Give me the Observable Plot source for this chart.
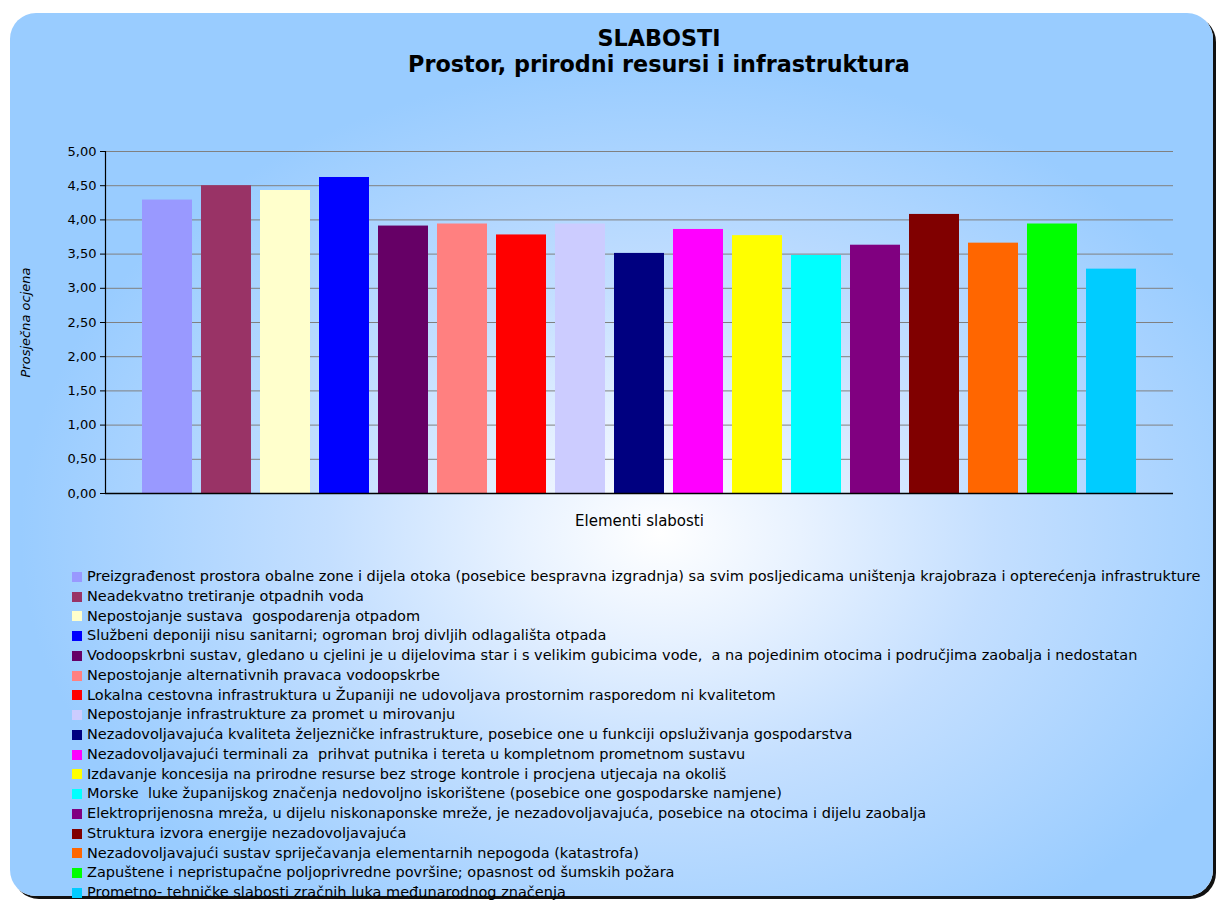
<!DOCTYPE html>
<html>
<head>
<meta charset="utf-8">
<script src="https://cdn.jsdelivr.net/npm/d3@7"></script>
<script src="https://cdn.jsdelivr.net/npm/@observablehq/plot@0.6"></script>
<style>
  html, body { margin: 0; padding: 0; background: #ffffff; width: 1216px; height: 900px; overflow: hidden; }
  #card {
    position: absolute; left: 10px; top: 13px; width: 1203px; height: 883px;
    border-radius: 26px;
    background: radial-gradient(ellipse 640px 470px at 650px 520px, #ffffff 0%, #e8f2ff 22%, #c4dfff 52%, #99ccff 100%);
    box-shadow: 3px 3px 0 #111;
  }
  #title {
    position: absolute; left: 259px; width: 800px; top: 25px; text-align: center;
    font-family: "DejaVu Sans", sans-serif; font-weight: bold;
    font-size: 22.3px; line-height: 26px; color: #000;
  }
  #chart { position: absolute; left: 0; top: 130px; }
  #legend {
    position: absolute; left: 72px; top: 567px;
    font-family: "DejaVu Sans", sans-serif; font-size: 14.5px; color: #000;
  }
  .row { height: 19.75px; line-height: 19.75px; white-space: pre; display: flex; align-items: center; }
  .sw { width: 10px; height: 10px; margin-right: 5px; flex: none; }
</style>
</head>
<body>
<div id="card"></div>
<div id="title"></div>
<div id="chart"></div>
<div id="legend"></div>
<script>
const titleLines = ["SLABOSTI", "Prostor, prirodni resursi i infrastruktura"];
const yLabel = "Prosječna ocjena";
const xLabel = "Elementi slabosti";
const categories = [
  "Preizgrađenost prostora obalne zone i dijela otoka (posebice bespravna izgradnja) sa svim posljedicama uništenja krajobraza i opterećenja infrastrukture",
  "Neadekvatno tretiranje otpadnih voda",
  "Nepostojanje sustava  gospodarenja otpadom",
  "Službeni deponiji nisu sanitarni; ogroman broj divljih odlagališta otpada",
  "Vodoopskrbni sustav, gledano u cjelini je u dijelovima star i s velikim gubicima vode,  a na pojedinim otocima i područjima zaobalja i nedostatan",
  "Nepostojanje alternativnih pravaca vodoopskrbe",
  "Lokalna cestovna infrastruktura u Županiji ne udovoljava prostornim rasporedom ni kvalitetom",
  "Nepostojanje infrastrukture za promet u mirovanju",
  "Nezadovoljavajuća kvaliteta željezničke infrastrukture, posebice one u funkciji opsluživanja gospodarstva",
  "Nezadovoljavajući terminali za  prihvat putnika i tereta u kompletnom prometnom sustavu",
  "Izdavanje koncesija na prirodne resurse bez stroge kontrole i procjena utjecaja na okoliš",
  "Morske  luke županijskog značenja nedovoljno iskorištene (posebice one gospodarske namjene)",
  "Elektroprijenosna mreža, u dijelu niskonaponske mreže, je nezadovoljavajuća, posebice na otocima i dijelu zaobalja",
  "Struktura izvora energije nezadovoljavajuća",
  "Nezadovoljavajući sustav spriječavanja elementarnih nepogoda (katastrofa)",
  "Zapuštene i nepristupačne poljoprivredne površine; opasnost od šumskih požara",
  "Prometno- tehničke slabosti zračnih luka međunarodnog značenja"
];
const values = [4.29, 4.50, 4.43, 4.62, 3.91, 3.94, 3.78, 3.94, 3.51, 3.86, 3.77, 3.48, 3.63, 4.08, 3.66, 3.94, 3.28];
const colors = ["#9999FF", "#993366", "#FFFFCC", "#0000FF", "#660066", "#FF8080", "#FF0000", "#CCCCFF",
  "#000080", "#FF00FF", "#FFFF00", "#00FFFF", "#800080", "#800000", "#FF6600", "#00FF00", "#00CCFF"];
const yTicks = [0, 0.5, 1, 1.5, 2, 2.5, 3, 3.5, 4, 4.5, 5];

const data = categories.map((c, i) => ({cat: c, value: values[i], color: colors[i]}));

document.getElementById("title").innerHTML = titleLines.map(t => `<div>${t}</div>`).join("");

const plot = Plot.plot({
  width: 1216,
  height: 410,
  marginLeft: 105,
  marginRight: 43,
  marginTop: 21,
  marginBottom: 47,
  style: {background: "transparent", fontFamily: "DejaVu Sans, sans-serif", fontSize: "13px", color: "#000"},
  x: {type: "band", domain: categories, paddingInner: 0.15, paddingOuter: 0.55},
  y: {domain: [0, 5]},
  marks: [
    Plot.gridY(yTicks, {stroke: "#808080", strokeOpacity: 1, strokeWidth: 1}),
    Plot.barY(data, {x: "cat", y: "value", fill: "color"}),
    Plot.axisY(yTicks, {
      tickFormat: d => d.toFixed(2).replace(".", ","),
      tickSize: 5, tickPadding: 4, label: null, stroke: "#000", fontSize: 13
    }),
    Plot.axisX({ticks: [], label: null}),
    Plot.ruleY([0], {stroke: "#000", strokeWidth: 1.5}),
    Plot.frame({anchor: "left", stroke: "#000", strokeWidth: 1.2}),
    Plot.text([xLabel], {text: d => d, frameAnchor: "bottom", dy: 28, fontSize: 15, lineAnchor: "middle", fill: "#000"}),
    Plot.text([yLabel], {text: d => d, frameAnchor: "left", dx: -80, rotate: -90, textAnchor: "middle", fontSize: 13, fontStyle: "italic", fill: "#000"})
  ]
});
document.getElementById("chart").appendChild(plot);

const legend = document.getElementById("legend");
data.forEach(d => {
  const row = document.createElement("div");
  row.className = "row";
  const sw = document.createElement("span");
  sw.className = "sw";
  sw.style.background = d.color;
  const tx = document.createElement("span");
  tx.textContent = d.cat;
  row.appendChild(sw);
  row.appendChild(tx);
  legend.appendChild(row);
});
</script>
</body>
</html>
